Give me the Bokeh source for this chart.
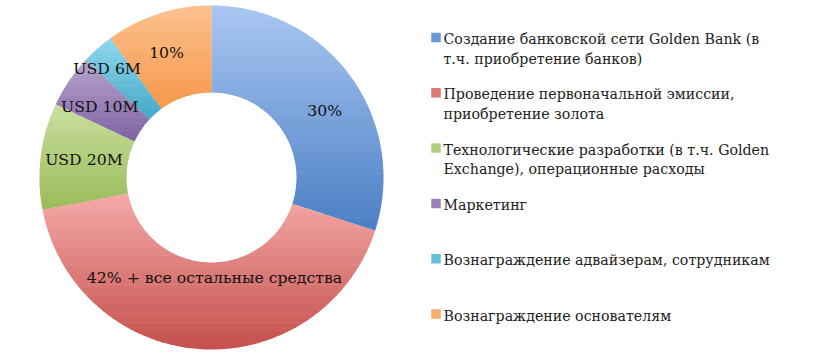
import numpy as np
from bokeh.plotting import figure
from bokeh.models import Range1d, ColumnDataSource
from bokeh.core.properties import value
from bokeh.embed import file_html
from bokeh.resources import INLINE

# ---------------- data ----------------
categories = [
    "Создание банковской сети Golden Bank (в\nт.ч. приобретение банков)",
    "Проведение первоначальной эмиссии,\nприобретение золота",
    "Технологические разработки (в т.ч. Golden\nExchange), операционные расходы",
    "Маркетинг",
    "Вознаграждение адвайзерам, сотрудникам",
    "Вознаграждение основателям",
]
shares = [30, 42, 10, 5, 3, 10]
slice_labels = ["30%", "42% + все остальные средства", "USD 20M", "USD 10M", "USD 6M", "10%"]
top_colors = ["#aac7f2", "#f5aaa8", "#cadf9f", "#b9a5d0", "#90d8ee", "#fbc08e"]
bottom_colors = ["#4a7ec4", "#c4504c", "#9bbb59", "#7f62a2", "#42a8c4", "#f7984a"]
legend_colors = ["#6b98d6", "#dc7876", "#b3cf7e", "#9a83ba", "#66c0db", "#f9ab69"]

# ---------------- layout (data units = screen pixels) ----------------
W, H = 805, 355
CX, CY = 211, H - 177
R_OUT, R_IN = 172, 85
label_r = [131, 100.5, 128.7, 132, 150.5, 132]
label_dang = [5.8, -5.3, 0.4, -2.0, -2.5, -1.9]   # degrees, label placement tweak
FONT = "DejaVu Serif"
LBL_SIZE = 15.7
CAP = 0.729 * LBL_SIZE
BASE_FIX = 6.5

p = figure(width=W, height=H, x_range=Range1d(0, W), y_range=Range1d(0, H),
           output_backend="svg", toolbar_location=None, min_border=0)
p.axis.visible = False
p.grid.visible = False
p.outline_line_color = None
p.background_fill_color = "white"
p.border_fill_color = "white"


def hex2rgb(h):
    h = h.lstrip("#")
    return np.array([int(h[i:i + 2], 16) for i in (0, 2, 4)], dtype=float)


def rgb2hex(c):
    c = np.clip(np.round(c), 0, 255).astype(int)
    return "#%02x%02x%02x" % tuple(c)


def clip_half(poly, y0, keep_above):
    out = []
    n = len(poly)
    for i in range(n):
        a = poly[i]
        b = poly[(i + 1) % n]
        ina = a[1] >= y0 if keep_above else a[1] <= y0
        inb = b[1] >= y0 if keep_above else b[1] <= y0
        if ina:
            out.append(a)
        if ina != inb:
            t = (y0 - a[1]) / (b[1] - a[1])
            out.append((a[0] + t * (b[0] - a[0]), y0))
    return out


total = float(sum(shares))
cum = np.concatenate([[0], np.cumsum(shares)]) / total * 2 * np.pi  # clockwise from top

xs_all, ys_all, cols_all = [], [], []
NB = 70
for i in range(len(shares)):
    a0, a1 = cum[i], cum[i + 1]
    ang = np.linspace(a0, a1, 160)
    ox = CX + R_OUT * np.sin(ang)
    oy = CY + R_OUT * np.cos(ang)
    ix = CX + R_IN * np.sin(ang[::-1])
    iy = CY + R_IN * np.cos(ang[::-1])
    poly = list(zip(np.concatenate([ox, ix]), np.concatenate([oy, iy])))
    ytop = max(pt[1] for pt in poly)
    ybot = min(pt[1] for pt in poly)
    ct, cb = hex2rgb(top_colors[i]), hex2rgb(bottom_colors[i])
    edges = np.linspace(ytop, ybot, NB + 1)
    for k in range(NB):
        hi = edges[k] + (0.6 if k > 0 else 0)
        lo = edges[k + 1]
        pc = clip_half(poly, hi, keep_above=False)
        if len(pc) < 3:
            continue
        pc = clip_half(pc, lo, keep_above=True)
        if len(pc) < 3:
            continue
        t = (k + 0.5) / NB
        xs_all.append([q[0] for q in pc])
        ys_all.append([q[1] for q in pc])
        cols_all.append(rgb2hex(ct + t * (cb - ct)))

p.patches(xs="xs", ys="ys", fill_color="c", line_color=None,
          source=ColumnDataSource(dict(xs=xs_all, ys=ys_all, c=cols_all)))

# slice labels (cap-height centred)
mid = (cum[:-1] + cum[1:]) / 2 + np.radians(label_dang)
lx = CX + np.array(label_r) * np.sin(mid)
ly = CY + np.array(label_r) * np.cos(mid) - CAP / 2 + BASE_FIX
p.text(x=lx, y=ly, text=slice_labels, text_align="center", text_baseline="alphabetic",
       text_font=value(FONT), text_font_size=f"{LBL_SIZE}px", text_color="#111111")

# legend
L_X = 443
L_Y0 = H - 45 + BASE_FIX      # baseline of first line
L_STEP = 55.3
LINE_H = 19.5
tx, ty, tt = [], [], []
for i, cat in enumerate(categories):
    y1 = L_Y0 - i * L_STEP
    for j, line in enumerate(cat.split("\n")):
        tx.append(L_X)
        ty.append(y1 - j * LINE_H)
        tt.append(line)
p.rect(x=[435.5] * len(categories), y=[H - 37 - i * L_STEP for i in range(len(categories))],
       width=9.5, height=9.5, fill_color=legend_colors, line_color=None)
p.text(x=tx, y=ty, text=tt, text_align="left", text_baseline="alphabetic",
       text_font=value(FONT), text_font_size="14.2px", text_color="#222222")

open("out.html", "w").write(file_html(p, INLINE))
